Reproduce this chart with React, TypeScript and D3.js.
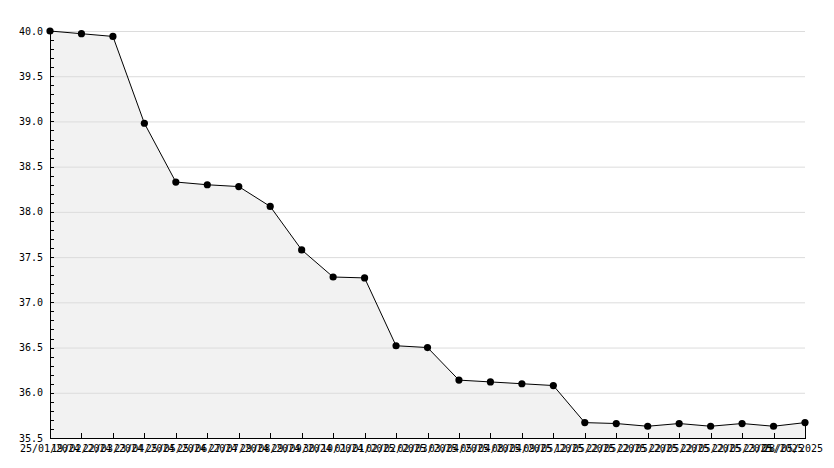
import React, { useEffect } from "react";
import * as d3 from "d3";

const dates = [
  "25/01/2024", "19/02/2024", "22/03/2024", "23/04/2024", "25/05/2024",
  "25/06/2024", "27/07/2024", "29/08/2024", "29/09/2024", "30/10/2024",
  "01/01/2025", "02/02/2025", "02/03/2025", "03/04/2025", "05/04/2025",
  "08/04/2025", "09/05/2025", "12/05/2025", "22/05/2025", "22/05/2025",
  "22/05/2025", "22/05/2025", "22/05/2025", "23/05/2025", "28/05/2025",
];

const values = [
  40.0, 39.97, 39.94, 38.98, 38.33, 38.3, 38.28, 38.06, 37.58, 37.28,
  37.27, 36.52, 36.5, 36.14, 36.12, 36.1, 36.08, 35.67, 35.66, 35.63,
  35.66, 35.63, 35.66, 35.63, 35.67,
];

const yTicks = [35.5, 36.0, 36.5, 37.0, 37.5, 38.0, 38.5, 39.0, 39.5, 40.0];

export default function App() {
  useEffect(() => {
    document.body.style.margin = "0";
  }, []);

  const W = 834;
  const H = 468;
  const left = 50;
  const right = 805;
  const top = 31;
  const bottom = 438;

  const x = d3.scaleLinear().domain([0, values.length - 1]).range([left, right]);
  const y = d3.scaleLinear().domain([35.5, 40.0]).range([bottom, top]);

  const line = d3
    .line<number>()
    .x((_, i) => x(i))
    .y((d) => y(d));
  const area = d3
    .area<number>()
    .x((_, i) => x(i))
    .y0(bottom)
    .y1((d) => y(d));

  const minor = d3.range(355, 401).map((v) => v / 10);
  const font = "'DejaVu Sans Mono', monospace";
  const labelHalf = 30;
  const maxLabelX = W - 11 - labelHalf;

  return (
    <svg width={W} height={H} style={{ display: "block", background: "#fff" }}>
      <path d={area(values) || ""} fill="#f2f2f2" />
      {yTicks.slice(1).map((t) => (
        <line key={"g" + t} x1={left} x2={right} y1={y(t) + 0.5} y2={y(t) + 0.5} stroke="#dcdcdc" />
      ))}
      <path d={line(values) || ""} fill="none" stroke="#000" strokeWidth={1} />
      <line x1={x(values.length - 1) + 0.5} x2={x(values.length - 1) + 0.5} y1={y(values[values.length - 1])} y2={bottom} stroke="#000" />
      <line x1={left + 0.5} x2={left + 0.5} y1={top} y2={bottom + 0.5} stroke="#000" />
      <line x1={left} x2={right + 1} y1={bottom + 0.5} y2={bottom + 0.5} stroke="#000" />
      {minor.map((t, i) => (
        <line key={"m" + i} x1={left} x2={left + 4} y1={Math.round(y(t)) + 0.5} y2={Math.round(y(t)) + 0.5} stroke="#000" />
      ))}
      {yTicks.map((t) => (
        <text
          key={"yl" + t}
          x={43}
          y={y(t)}
          dy="0.35em"
          textAnchor="end"
          fontFamily={font}
          fontSize={10}
          fill="#000"
        >
          {t.toFixed(1)}
        </text>
      ))}
      {values.map((_, i) => (
        <line key={"xt" + i} x1={Math.round(x(i)) + 0.5} x2={Math.round(x(i)) + 0.5} y1={bottom - 5} y2={bottom} stroke="#000" />
      ))}
      {dates.map((d, i) => (
        <text
          key={"xl" + i}
          x={Math.min(x(i), maxLabelX)}
          y={bottom + 14}
          textAnchor="middle"
          fontFamily={font}
          fontSize={10}
          fill="#000"
        >
          {d}
        </text>
      ))}
      {values.map((v, i) => (
        <circle key={"p" + i} cx={x(i)} cy={y(v)} r={3.6} fill="#000" />
      ))}
    </svg>
  );
}
